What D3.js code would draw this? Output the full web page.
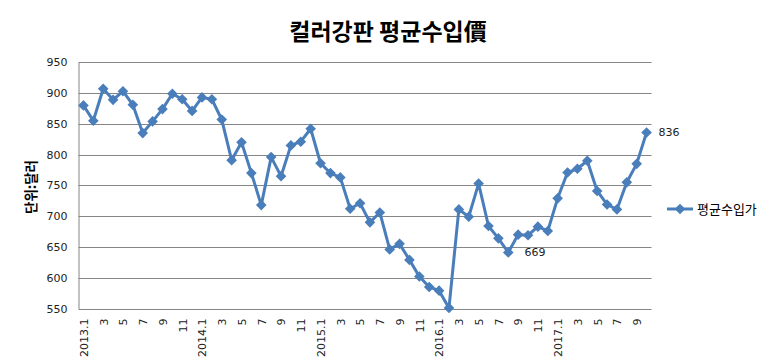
<!DOCTYPE html>
<html>
<head>
<meta charset="utf-8">
<script src="https://cdn.jsdelivr.net/npm/d3@7"></script>
<style>
  body { margin: 0; background: #fff; }
  svg { display: block; }
</style>
</head>
<body>
<div id="chart"></div>
<script>
// month categories 2013.1 ~ 2017.10
const months = [
    '2013.1', '2', '3', '4', '5', '6', '7', '8', '9', '10', '11', '12',
    '2014.1', '2', '3', '4', '5', '6', '7', '8', '9', '10', '11', '12',
    '2015.1', '2', '3', '4', '5', '6', '7', '8', '9', '10', '11', '12',
    '2016.1', '2', '3', '4', '5', '6', '7', '8', '9', '10', '11', '12',
    '2017.1', '2', '3', '4', '5', '6', '7', '8', '9', '10'
];

// 평균수입가 (USD/ton)
const avgPrice = [
    880, 855, 907, 889, 903, 881, 835, 854, 874, 899, 890, 871,
    893, 890, 857, 791, 820, 770, 718, 796, 765, 815, 821, 842,
    786, 770, 763, 712, 721, 690, 706, 646, 655, 629, 602, 585,
    579, 551, 711, 699, 753, 684, 664, 641, 670, 669, 683, 676,
    729, 771, 777, 790, 741, 719, 711, 755, 785, 836
];

const yTicks = [550, 600, 650, 700, 750, 800, 850, 900, 950];
const labelledPoints = [45, 57];

const title = '컬러강판 평균수입價';
const yTitle = '단위:달러';
const seriesName = '평균수입가';

const width = 776, height = 364;
const plot = { left: 78.5, right: 651.5, top: 62.3, bottom: 308.5 };
const blue = '#4a7ebb';

const svg = d3.select('#chart').append('svg')
    .attr('width', width)
    .attr('height', height)
    .style('font-family', '"DejaVu Sans", sans-serif');

const idx = months.map((m, i) => i);
const x = d3.scalePoint()
    .domain(idx)
    .range([plot.left, plot.right])
    .padding(0.5);

const y = d3.scaleLinear()
    .domain([550, 950])
    .range([plot.bottom, plot.top]);

// title
svg.append('text')
    .attr('x', 388)
    .attr('y', 40)
    .attr('text-anchor', 'middle')
    .style('font-family', '"Noto Sans CJK KR", sans-serif')
    .style('font-size', '23px')
    .style('font-weight', 'bold')
    .style('fill', '#000')
    .text(title);

// gridlines
svg.append('g')
    .selectAll('line')
    .data(yTicks.slice(1))
    .enter()
    .append('line')
    .attr('x1', plot.left)
    .attr('x2', plot.right)
    .attr('y1', d => Math.round(y(d)) + 0.5)
    .attr('y2', d => Math.round(y(d)) + 0.5)
    .style('stroke', '#868686')
    .style('stroke-width', 1);

// y axis
const yAxis = svg.append('g')
    .attr('transform', `translate(${plot.left},0)`)
    .call(d3.axisLeft(y).tickValues(yTicks).tickSize(0).tickPadding(11));
yAxis.select('.domain').style('stroke', '#868686');
yAxis.selectAll('text')
    .style('font-size', '11px')
    .style('font-family', '"DejaVu Sans", sans-serif')
    .style('fill', '#222');

// x axis
const xAxis = svg.append('g')
    .attr('transform', `translate(0,${Math.round(plot.bottom) + 0.5})`)
    .call(d3.axisBottom(x)
        .tickValues(idx.filter(i => i % 2 === 0))
        .tickFormat(i => months[i])
        .tickSize(0));
xAxis.select('.domain')
    .attr('d', `M${plot.left},0H${plot.right}`)
    .style('stroke', '#868686');
xAxis.selectAll('text')
    .attr('transform', 'rotate(-90)')
    .attr('x', -9)
    .attr('y', 0)
    .attr('dy', '0.35em')
    .attr('text-anchor', 'end')
    .style('font-size', '11px')
    .style('font-family', '"DejaVu Sans", sans-serif')
    .style('fill', '#222');

// y axis title
svg.append('text')
    .attr('transform', 'translate(31,187) rotate(-90)')
    .attr('text-anchor', 'middle')
    .attr('dy', '0.35em')
    .style('font-family', '"Noto Sans CJK KR", sans-serif')
    .style('font-size', '13.5px')
    .style('font-weight', 'bold')
    .text(yTitle);

// series line
const line = d3.line()
    .x((d, i) => x(i))
    .y(d => y(d));

svg.append('path')
    .datum(avgPrice)
    .attr('d', line)
    .style('fill', 'none')
    .style('stroke', blue)
    .style('stroke-width', 3)
    .style('stroke-linejoin', 'round');

const diamond = d3.symbol().type(d3.symbolDiamond2).size(72);

svg.append('g')
    .selectAll('path')
    .data(avgPrice)
    .enter()
    .append('path')
    .attr('d', diamond)
    .attr('transform', (d, i) => `translate(${x(i)},${y(d)})`)
    .style('fill', blue);

// data labels
svg.append('g')
    .selectAll('text')
    .data(labelledPoints)
    .enter()
    .append('text')
    .attr('x', i => i === avgPrice.length - 1 ? x(i) + 12 : x(i) + 7)
    .attr('y', i => i === avgPrice.length - 1 ? y(avgPrice[i]) : y(avgPrice[i]) + 17)
    .attr('dy', '0.35em')
    .attr('text-anchor', i => i === avgPrice.length - 1 ? 'start' : 'middle')
    .style('font-size', '11px')
    .style('fill', '#222')
    .text(i => avgPrice[i]);

// legend
const legend = svg.append('g')
    .attr('transform', 'translate(667,209)');

legend.append('line')
    .attr('x1', 0)
    .attr('x2', 26)
    .style('stroke', blue)
    .style('stroke-width', 3);

legend.append('path')
    .attr('d', diamond)
    .attr('transform', 'translate(13,0)')
    .style('fill', blue);

legend.append('text')
    .attr('x', 30)
    .attr('dy', '0.35em')
    .style('font-family', '"Noto Sans CJK KR", sans-serif')
    .style('font-size', '13px')
    .style('fill', '#000')
    .text(seriesName);
</script>
</body>
</html>
